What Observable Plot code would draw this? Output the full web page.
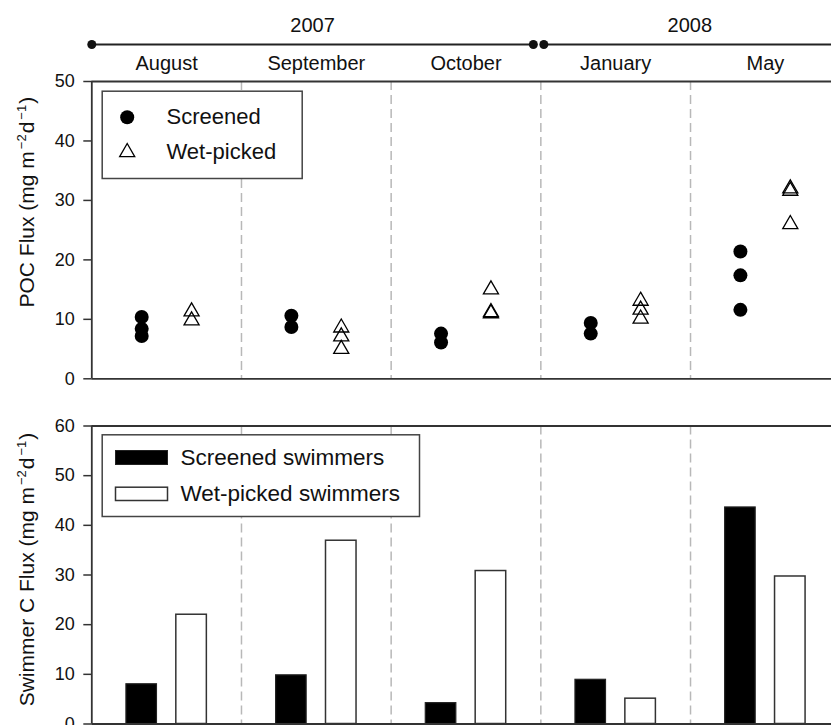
<!DOCTYPE html>
<html><head><meta charset="utf-8">
<script src="https://cdn.jsdelivr.net/npm/d3@7"></script>
<script src="https://cdn.jsdelivr.net/npm/@observablehq/plot@0.6"></script>
<style>html,body{margin:0;padding:0;overflow:hidden;background:#fff;} #chart svg{display:block;overflow:visible;background:none}</style>
</head><body><div id="chart"></div>
<script>
// ---- data ----
const months = ["August", "September", "October", "January", "May"];
const years = ["2007", "2008"];
const yearStart = [0, 3.02];   // in month units
const yearEnd = [2.95, 4.97];
const pocScreened = [[10.4, 8.4, 7.2], [10.6, 8.7], [7.6, 6.1], [9.4, 7.6], [21.4, 17.4, 11.6]];
const pocWetPicked = [[11.3, 9.8], [8.6, 7.1, 5.0], [15.0, 11.2, 11.0], [13.1, 11.6, 10.1], [32.0, 31.6, 26.0]];
const swimScreened = [8.0, 9.8, 4.2, 8.9, 43.6];
const swimWetPicked = [22.0, 36.9, 30.8, 5.1, 29.7];
const pocTicks = [0, 10, 20, 30, 40, 50];
const swimTicks = [0, 10, 20, 30, 40, 50, 60];
const pocLabel = "POC Flux (mg m{−2}d{−1})";
const swimLabel = "Swimmer C Flux (mg m{−2}d{−1})";
const legendTop = ["Screened", "Wet-picked"];
const legendBottom = ["Screened swimmers", "Wet-picked swimmers"];

// ---- derived tables ----
const yearSeg = years.map((label, k) => ({label, start: yearStart[k], end: yearEnd[k]}));
const scr = pocScreened.flatMap((vals, i) => vals.map(v => ({i, v})));
const wet = pocWetPicked.flatMap((vals, i) => vals.map(v => ({i, v})));

const font = "'Liberation Sans', Arial, Helvetica, sans-serif";
const W = 831;
const xRange = [91.3, 839.7];
const axisColor = "#333";
const dashColor = "#b8b8b8";
const bw = 0.102;

function superscripts(svg) {
  d3.select(svg).selectAll("text").each(function () {
    const t = this.textContent;
    if (!t.includes("{")) return;
    const parts = t.split(/\{([^}]*)\}/);
    const sel = d3.select(this);
    sel.text(null);
    let shifted = false;
    parts.forEach((p, k) => {
      if (!p) return;
      const ts = sel.append("tspan").text(p);
      if (k % 2 === 1) {
        ts.attr("font-size", 13).attr("dx", 2).attr("dy", shifted ? 0 : -8);
        shifted = true;
      } else if (shifted) {
        ts.attr("dy", 8).attr("dx", 1);
        shifted = false;
      }
    });
  });
  return svg;
}

// ---- header (years / months) ----
const header = Plot.plot({
  width: W, height: 72, marginLeft: 0, marginRight: 0, marginTop: 0, marginBottom: 0,
  style: {fontFamily: font, color: "#111", background: "none", overflow: "visible"},
  x: {domain: [0, months.length], range: xRange, axis: null},
  y: {type: "point", domain: ["year", "line", "month"], range: [24, 63], padding: 0, axis: null},
  marks: [
    Plot.ruleY(yearSeg, {x1: "start", x2: "end", y: () => "line", stroke: "#222", strokeWidth: 2}),
    Plot.dot(yearSeg.flatMap(d => [d.start, d.end]), {x: d => d, y: () => "line", r: 4.5, fill: "#111"}),
    Plot.text(yearSeg, {x: d => (d.start + d.end) / 2, y: () => "year", text: "label", fontSize: 20}),
    Plot.text(months, {x: (d, i) => i + 0.5, y: () => "month", fontSize: 20})
  ]
});

// ---- top panel: POC flux ----
const topPanel = Plot.plot({
  width: W, height: 340, marginLeft: 91.3, marginRight: 0, marginTop: 9, marginBottom: 33.7,
  style: {fontFamily: font, fontSize: "18px", color: "#111", background: "none", overflow: "visible"},
  x: {domain: [0, months.length], range: xRange, axis: null},
  y: {domain: [0, 50]},
  marks: [
    Plot.ruleX(d3.range(1, months.length), {stroke: dashColor, strokeWidth: 1.5, strokeDasharray: "9,5"}),
    Plot.dot(scr, {x: d => d.i + 1 / 3, y: "v", r: 7, fill: "#000"}),
    Plot.dot(wet, {x: d => d.i + 2 / 3, y: "v", r: 5.6, symbol: "triangle", stroke: "#000", fill: "none", strokeWidth: 1.3}),
    Plot.frame({insetLeft: 10.4, insetTop: 9.7, insetRight: W - 301.7, insetBottom: 378.3 - 178, fill: "white", stroke: "#444", strokeWidth: 1.5}),
    Plot.dot([legendTop[0]], {frameAnchor: "top-left", dx: 35.4, dy: 35.7, r: 7, fill: "#000"}),
    Plot.dot([legendTop[1]], {frameAnchor: "top-left", dx: 35.4, dy: 70.7, r: 5.6, symbol: "triangle", stroke: "#000", fill: "none", strokeWidth: 1.3}),
    Plot.text([legendTop[0]], {frameAnchor: "top-left", dx: 74.7, dy: 35.7, textAnchor: "start", lineAnchor: "middle", fontSize: 22}),
    Plot.text([legendTop[1]], {frameAnchor: "top-left", dx: 74.7, dy: 70.7, textAnchor: "start", lineAnchor: "middle", fontSize: 22}),
    Plot.ruleY([0, 50], {stroke: axisColor, strokeWidth: 1.8}),
    Plot.ruleX([0], {stroke: axisColor, strokeWidth: 1.8}),
    Plot.axisY(pocTicks, {tickSize: 8, tickPadding: 9, fontSize: 18, label: null, stroke: axisColor, strokeWidth: 1.5}),
    Plot.text([pocLabel], {frameAnchor: "left", rotate: -90, textAnchor: "middle", lineAnchor: "middle", dx: -65, dy: -28, fontSize: 21})
  ]
});

// ---- bottom panel: swimmer C flux ----
const bottomPanel = Plot.plot({
  width: W, height: 313, marginLeft: 91.3, marginRight: 0, marginTop: 13.5, marginBottom: 1.5,
  style: {fontFamily: font, fontSize: "18px", color: "#111", background: "none", overflow: "visible"},
  x: {domain: [0, months.length], range: xRange, axis: null},
  y: {domain: [0, 60]},
  marks: [
    Plot.ruleX(d3.range(1, months.length), {stroke: dashColor, strokeWidth: 1.5, strokeDasharray: "9,5"}),
    Plot.rect(swimScreened, {x1: (d, i) => i + 1 / 3 - bw, x2: (d, i) => i + 1 / 3 + bw, y1: 0, y2: d => d, fill: "#000", stroke: "#222", strokeWidth: 1.2}),
    Plot.rect(swimWetPicked, {x1: (d, i) => i + 2 / 3 - bw, x2: (d, i) => i + 2 / 3 + bw, y1: 0, y2: d => d, fill: "white", stroke: "#333", strokeWidth: 1.5}),
    Plot.frame({insetLeft: 10.4, insetTop: 8.8, insetRight: W - 419, insetBottom: 723.5 - 516, fill: "white", stroke: "#444", strokeWidth: 1.5}),
    Plot.frame({insetLeft: 23.7, insetRight: W - 167, insetTop: 24.5, insetBottom: 723.5 - 464, fill: "#000", stroke: "#222", strokeWidth: 1}),
    Plot.frame({insetLeft: 23.7, insetRight: W - 167, insetTop: 61.2, insetBottom: 723.5 - 500, fill: "white", stroke: "#333", strokeWidth: 1.5}),
    Plot.text([legendBottom[0]], {frameAnchor: "top-left", dx: 88.7, dy: 31.5, textAnchor: "start", lineAnchor: "middle", fontSize: 22.5}),
    Plot.text([legendBottom[1]], {frameAnchor: "top-left", dx: 88.7, dy: 67.5, textAnchor: "start", lineAnchor: "middle", fontSize: 22.5}),
    Plot.ruleY([0, 60], {stroke: axisColor, strokeWidth: 1.8}),
    Plot.ruleX([0], {stroke: axisColor, strokeWidth: 1.8}),
    Plot.axisY(swimTicks, {tickSize: 8, tickPadding: 9, fontSize: 18, label: null, stroke: axisColor, strokeWidth: 1.5}),
    Plot.text([swimLabel], {frameAnchor: "left", rotate: -90, textAnchor: "middle", lineAnchor: "middle", dx: -65, dy: -5.5, fontSize: 21})
  ]
});

const root = document.getElementById("chart");
root.append(header, superscripts(topPanel), superscripts(bottomPanel));
</script>
</body></html>
